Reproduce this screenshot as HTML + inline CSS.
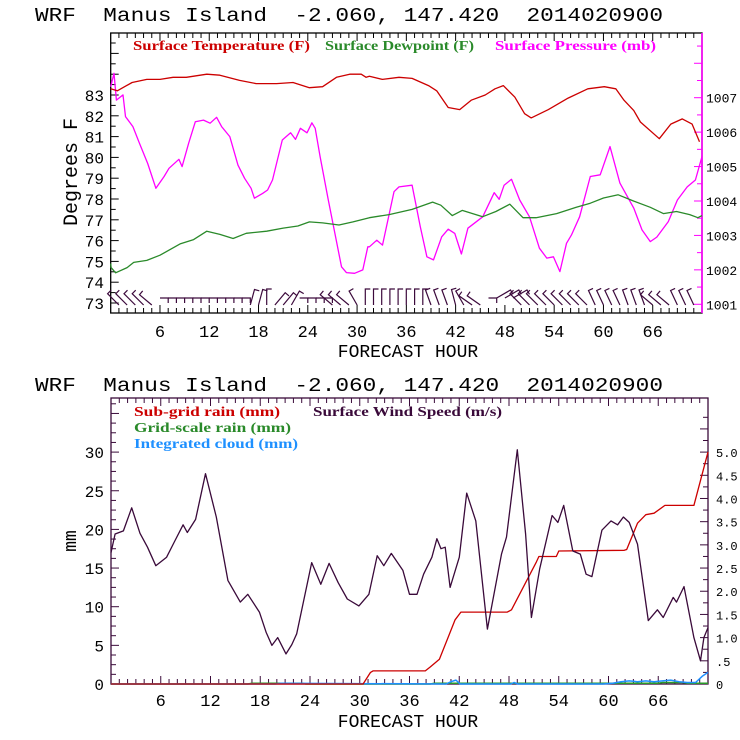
<!DOCTYPE html>
<html><head><meta charset="utf-8"><style>
html,body{margin:0;padding:0;background:#fff;}
svg{display:block;}
text{font-family:"Liberation Mono","DejaVu Sans Mono",monospace;}
.lg{font-family:"Liberation Serif",serif;font-weight:bold;font-size:14px;}
</style></head><body>
<svg id="chart" width="740" height="740" viewBox="0 0 740 740" xmlns="http://www.w3.org/2000/svg"></svg>
<script>
// ---------- TOP CHART DATA ----------
const tempHours=[0,0.8,2.6,4.4,6,7.6,9.2,11.7,13.3,15.7,17.7,20.2,22.2,24.2,25.8,27.5,29.1,30.5,31.1,31.5,33.1,35.1,36.7,38.7,39.7,41.1,42.5,43.9,45.6,46.8,47.8,49.2,50.4,51.2,53.3,55.7,58.1,60.1,61.5,62.5,63.7,64.5,66.8,68.2,69.6,70.8,71.7];
const tempValues=[83.3,83.2,83.6,83.75,83.75,83.85,83.85,84.0,83.95,83.7,83.55,83.55,83.6,83.35,83.4,83.85,84.0,84.0,83.85,83.9,83.75,83.85,83.8,83.45,83.2,82.4,82.3,82.75,83.0,83.3,83.45,82.9,82.1,81.9,82.3,82.85,83.3,83.4,83.3,82.75,82.25,81.7,80.9,81.6,81.85,81.6,80.75];
const dewHours=[0,0.05,0.6,2,2.8,4.4,6,8.5,10.1,11.7,13.3,14.9,16.5,19,21,22.8,24.2,25.8,27.8,29.5,31.5,33.9,36.7,39.2,40.2,41.6,42.8,45.3,46.9,48.6,50.2,51.8,54.3,56.7,58.4,60,61.8,63.7,65.7,67.3,68.9,70.5,71.5,72];
const dewValues=[74.9,74.7,74.45,74.7,74.95,75.05,75.3,75.85,76.05,76.45,76.3,76.1,76.35,76.45,76.6,76.7,76.9,76.85,76.75,76.9,77.1,77.25,77.5,77.85,77.7,77.2,77.45,77.15,77.4,77.75,77.1,77.1,77.3,77.6,77.8,78.05,78.2,77.9,77.6,77.3,77.4,77.25,77.1,77.2];
const presHours=[0,0.4,0.7,1.5,1.8,2.7,3.5,4.5,5.5,6.5,7.1,8.3,8.7,9.5,10.3,11.3,12.1,12.9,13.5,14.5,15.5,16.3,17.1,17.5,18.5,19.1,19.7,20.9,21.9,22.5,23.1,23.9,24.5,24.9,25.5,26.5,27.3,28.1,28.7,29.7,30.7,31.3,31.5,32.4,33.1,34.5,35.1,36.7,37.7,38.5,39.3,40.3,41.1,41.9,42.7,43.5,45.3,46.7,47.3,47.9,48.8,49.8,51,52.2,53.1,53.9,54.7,55.5,56.1,57.1,58.4,59.6,60.8,62,63.7,64.7,65.7,66.5,67.9,69,70.2,71.2,72];
const presValues=[1007.32,1007.71,1006.93,1007.08,1006.45,1006.16,1005.68,1005.09,1004.37,1004.71,1004.95,1005.21,1005.0,1005.68,1006.30,1006.35,1006.26,1006.43,1006.16,1005.87,1005.04,1004.66,1004.37,1004.08,1004.22,1004.32,1004.61,1005.77,1005.98,1005.79,1006.11,1005.98,1006.27,1006.11,1005.29,1004.03,1003.06,1002.09,1001.92,1001.90,1002.0,1002.67,1002.67,1002.86,1002.72,1004.27,1004.41,1004.46,1003.25,1002.38,1002.29,1002.96,1003.18,1003.06,1002.46,1003.21,1003.54,1004.24,1004.05,1004.46,1004.63,1004.03,1003.54,1002.63,1002.34,1002.38,1001.95,1002.77,1003.01,1003.54,1004.71,1004.76,1005.58,1004.52,1003.79,1003.16,1002.82,1002.95,1003.40,1004.03,1004.41,1004.61,1005.29];
const barbHours=[1,2,3,4,5,6,7,8,9,10,11,12,13,14,15,16,17,18,19,20,21,22,23,24,25,26,27,28,29,30,31,32,33,34,35,36,37,38,39,40,41,42,43,44,45,46,47,48,49,50,51,52,53,54,55,56,57,58,59,60,61,62,63,64,65,66,67,68,69,70,71];
const barbAngles=[-45,-45,-45,-45,-50,90,90,90,90,90,90,90,90,90,90,90,15,15,0,40,40,30,90,90,90,90,-50,-50,-50,-30,0,0,0,0,0,0,0,0,-20,-20,-20,-15,-30,-55,-55,90,60,60,60,-45,-45,-45,-45,-45,-45,-45,-45,-45,-25,-25,-25,-25,-20,-20,-20,-50,-50,-50,-25,-25,-25];
const topXTicks=[6,12,18,24,30,36,42,48,54,60,66];
const topLeftTicks=[73,74,75,76,77,78,79,80,81,82,83];
const topRightTicks=[1001,1002,1003,1004,1005,1006,1007];
// ---------- BOTTOM CHART DATA ----------
const windHours=[0,0.5,1.5,2.5,3.5,4.4,5.4,6.7,7.7,8.7,9.2,10.2,11.4,12.7,14.1,15.6,16.5,17.9,18.7,19.4,20.1,21.1,21.8,22.4,24.2,25.3,26.3,27.4,28.5,29.9,31.1,32.1,32.9,33.8,35.2,36.0,36.9,37.7,38.7,39.3,39.8,40.3,40.9,42.0,42.9,44.0,45.4,47.1,47.7,49.0,50.0,50.7,51.7,53.2,53.9,54.6,55.7,56.6,57.3,58.0,59.2,60.3,61.1,61.8,62.5,63.5,64.8,65.9,66.6,67.8,68.2,69.1,70.3,71.1,71.5,72];
const windMm=[17,19.4,19.8,22.8,19.5,17.7,15.3,16.4,18.5,20.6,19.6,21.3,27.2,21.6,13.4,10.6,11.6,9.3,6.7,5.0,6.0,3.9,5.1,6.5,15.7,12.9,15.6,13.1,11.0,10.1,11.6,16.6,15.3,16.9,14.7,11.6,11.6,14.2,16.4,18.8,17.5,17.7,12.5,16.4,24.7,21.1,7.1,16.8,19.0,30.3,19.4,8.6,14.9,21.8,20.9,23.1,17.2,16.8,14.2,13.9,19.9,21.1,20.6,21.6,20.9,18.1,8.2,9.6,8.6,11.2,10.6,12.6,6.0,3.0,6.0,7.3];
const windSpeed=windMm.map(v=>v/6); // m/s (right axis: 5.0 m/s == 30 mm)
const rainHours=[0,30.4,31.3,31.6,37.9,38.5,39.6,41.5,42.2,47.8,48.3,51.3,51.6,53.7,54.0,61.9,62.2,63.5,64.5,65.5,66.8,67.2,70.3,72];
const rainValues=[0,0,1.5,1.7,1.7,2.2,3.2,8.3,9.3,9.3,9.6,15.8,16.5,16.5,17.2,17.3,17.4,20.8,21.9,22.1,23.1,23.1,23.1,30];
const cloudHours=[0,19.8,20.5,40.4,41.0,41.6,42.1,48.2,48.6,49.1,59.3,60.5,61.5,62.5,63.5,64.5,65.5,66.5,67.5,68.5,69.5,70.5,71.3,72];
const cloudValues=[0,0,0.1,0,0.3,0.5,0,0,0.2,0,0,0.1,0.3,0.4,0.3,0.4,0.3,0.4,0.5,0.3,0.2,0.2,1.0,1.5];
const gridHours=[0,16.5,17,23,23.5,38.5,39,66,66.5,69,69.5,72];
const gridValues=[0,0,0.1,0.1,0,0,0.1,0.1,0.2,0.2,0.1,0.1];
const botLeftTicks=[0,5,10,15,20,25,30];
const botRightTicks=[0,0.5,1,1.5,2,2.5,3,3.5,4,4.5,5];
const botRightLabels=["0",".5","1.0","1.5","2.0","2.5","3.0","3.5","4.0","4.5","5.0"];

const NS="http://www.w3.org/2000/svg";
const svg=document.getElementById('chart');
function el(tag,attrs,parent){const e=document.createElementNS(NS,tag);for(const k in attrs)e.setAttribute(k,attrs[k]);(parent||svg).appendChild(e);return e;}
function txt(s,x,y,attrs,parent){const t=el('text',Object.assign({x:x,y:y},attrs),parent);t.textContent=s;return t;}

const T={x0:110.7,x1:702,y0:33,y1:313};
const tx=h=>T.x0+(h/72)*(T.x1-T.x0);
const tyL=v=>95-(v-83)*20.8;
const tyR=v=>97.7-(v-1007)*34.43;
const B={x0:111,x1:708,y0:398,y1:684};
const bx=h=>B.x0+(h/72)*(B.x1-B.x0);
const byL=v=>684-v*7.73;
const byR=v=>684-v*46.38;

function line(xs,ys,fx,fy,color,name,g,w){
  let d='';for(let i=0;i<xs.length;i++){d+=(i?'L':'M')+fx(xs[i]).toFixed(1)+' '+fy(ys[i]).toFixed(1);}
  const p=el('path',{d:d,fill:'none',stroke:color,'stroke-width':w||1.3,'stroke-linejoin':'round'},g);
  
  
  return p;
}
const TITLE="WRF\u00a0 Manus Island\u00a0 -2.060, 147.420\u00a0 2014020900";

// ===== TOP CHART =====
const gTop=el('g',{});


const t1=txt(TITLE,35,21,{'font-size':'19px',fill:'#000',textLength:'628',lengthAdjust:'spacingAndGlyphs'},gTop);


const fr=el('rect',{x:T.x0,y:T.y0,width:T.x1-T.x0,height:T.y1-T.y0,fill:'none',stroke:'#000','stroke-width':1.3},gTop);


const rax=el('line',{x1:T.x1,y1:T.y0,x2:T.x1,y2:T.y1,stroke:'#ff00ff','stroke-width':1.6},gTop);


for(let h=1;h<72;h++){const maj=h%6===0;const L=maj?8:5;
  el('line',{x1:tx(h),y1:T.y1,x2:tx(h),y2:T.y1-L,stroke:'#000'},gTop);
  el('line',{x1:tx(h),y1:T.y0,x2:tx(h),y2:T.y0+L,stroke:'#000'},gTop);}
topXTicks.forEach(h=>{const t=txt(String(h),tx(h),337,{'font-size':'17px','text-anchor':'middle'},gTop);
  
  });
for(let v=72.5;v<=85.5;v+=0.5){const y=tyL(v);if(y<T.y0+2||y>T.y1-1)continue;
  el('line',{x1:T.x0,y1:y,x2:T.x0+(Number.isInteger(v)?8:5),y2:y,stroke:'#000'},gTop);}
topLeftTicks.forEach(v=>{const t=txt(String(v),104,tyL(v)+6,{'font-size':'16px','text-anchor':'end'},gTop);
  
  });
for(let v=1000.5;v<=1009;v+=0.5){const y=tyR(v);if(y<T.y0+2||y>T.y1-1)continue;
  el('line',{x1:T.x1,y1:y,x2:T.x1-(Number.isInteger(v)?8:5),y2:y,stroke:'#ff00ff'},gTop);}
topRightTicks.forEach(v=>{const t=txt(String(v),706,tyR(v)+5,{'font-size':'13px'},gTop);
  
  });
const yt=txt('Degrees F',0,0,{'font-size':'20px','text-anchor':'middle',transform:'translate(77,172) rotate(-90)'},gTop);


const xt=txt('FORECAST HOUR',408,357,{'font-size':'18px','text-anchor':'middle'},gTop);


[['Surface Temperature (F)',133,177,'#cc0000','legend-temperature'],['Surface Dewpoint (F)',325,149,'#2a8a2a','legend-dewpoint'],['Surface Pressure (mb)',495,161,'#ff00ff','legend-pressure']].forEach(a=>{
  const t=txt(a[0],a[1],50,{class:'lg',fill:a[3],textLength:a[2],lengthAdjust:'spacingAndGlyphs'},gTop);
  
  });
line(presHours,presValues,tx,tyR,'#ff00ff','pressure-line',gTop);
line(dewHours,dewValues,tx,tyL,'#2a8a2a','dewpoint-line',gTop);
line(tempHours,tempValues,tx,tyL,'#cc0000','temperature-line',gTop);
const gB=el('g',{stroke:'#3c0a3c','stroke-width':1.2,fill:'none'},gTop);


barbHours.forEach((h,i)=>{
  const a=barbAngles[i]*Math.PI/180;const L=(Math.abs(barbAngles[i])===90)?8.2:16;
  const x0=tx(h),y0=(Math.abs(barbAngles[i])>=60)?298:305;
  const x1=x0+Math.sin(a)*L,y1=y0-Math.cos(a)*L;
  const b=el('path',{d:`M${x0.toFixed(1)} ${y0.toFixed(1)}L${x1.toFixed(1)} ${y1.toFixed(1)}l${(Math.cos(a)*5).toFixed(1)} ${(Math.sin(a)*5).toFixed(1)}`},gB);
  
  
});

// ===== BOTTOM CHART =====
const gBot=el('g',{});


const t2=txt(TITLE,35,391,{'font-size':'19px',fill:'#000',textLength:'628',lengthAdjust:'spacingAndGlyphs'},gBot);


const fr2=el('rect',{x:B.x0,y:B.y0,width:B.x1-B.x0,height:B.y1-B.y0,fill:'none',stroke:'#3a0a3a','stroke-width':1.3},gBot);


for(let h=1;h<72;h++){const maj=h%6===0;const L=maj?8:5;
  el('line',{x1:bx(h),y1:B.y1,x2:bx(h),y2:B.y1-L,stroke:'#3a0a3a'},gBot);
  el('line',{x1:bx(h),y1:B.y0,x2:bx(h),y2:B.y0+L,stroke:'#3a0a3a'},gBot);}
topXTicks.forEach(h=>{const t=txt(String(h),bx(h),706,{'font-size':'17px','text-anchor':'middle'},gBot);
  
  });
for(let v=1.25;v<37;v+=1.25){const y=byL(v);if(y<B.y0+2)continue;
  el('line',{x1:B.x0,y1:y,x2:B.x0+(v%5===0?8:5),y2:y,stroke:'#3a0a3a'},gBot);}
botLeftTicks.forEach(v=>{const t=txt(String(v),104,byL(v)+6,{'font-size':'16px','text-anchor':'end'},gBot);
  
  });
for(let v=0.25;v<6;v+=0.25){const y=byR(v);if(y<B.y0+2)continue;
  el('line',{x1:B.x1,y1:y,x2:B.x1-(Math.abs(v*2-Math.round(v*2))<1e-6?8:5),y2:y,stroke:'#3a0a3a'},gBot);}
botRightTicks.forEach((v,i)=>{const t=txt(botRightLabels[i],716,byR(v)+5,{'font-size':'12px'},gBot);
  
  });
const yt2=txt('mm',0,0,{'font-size':'18px','text-anchor':'middle',transform:'translate(76,541) rotate(-90)'},gBot);


const xt2=txt('FORECAST HOUR',408,727,{'font-size':'18px','text-anchor':'middle'},gBot);


[['Sub-grid rain (mm)',134,416,146,'#cc0000','legend-subgrid-rain'],['Surface Wind Speed (m/s)',313,416,189,'#3a0a3a','legend-wind-speed'],['Grid-scale rain (mm)',134,432,157,'#2a8a2a','legend-grid-rain'],['Integrated cloud (mm)',134,448,164,'#1e90ff','legend-integrated-cloud']].forEach(a=>{
  const t=txt(a[0],a[1],a[2],{class:'lg',fill:a[4],textLength:a[3],lengthAdjust:'spacingAndGlyphs'},gBot);
  
  });
line(gridHours,gridValues,bx,byL,'#2a9a2a','grid-scale-rain-line',gBot,1.5);
line(cloudHours,cloudValues,bx,byL,'#1e90ff','integrated-cloud-line',gBot,1.5);
line(rainHours,rainValues,bx,byL,'#cc0000','subgrid-rain-line',gBot);
line(windHours,windSpeed,bx,byR,'#3a0a3a','wind-speed-line',gBot);
</script>
</body></html>
